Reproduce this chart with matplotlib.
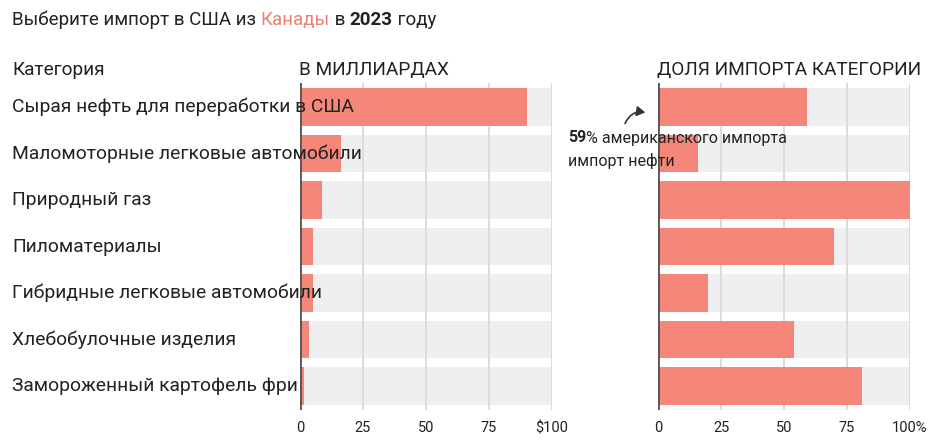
import matplotlib
matplotlib.use('Agg')
import matplotlib.pyplot as plt
from matplotlib.patches import FancyArrowPatch
from matplotlib.transforms import blended_transform_factory

plt.rcParams['font.family'] = ['Roboto', 'DejaVu Sans']

categories = [
    'Сырая нефть для переработки в США',
    'Маломоторные легковые автомобили',
    'Природный газ',
    'Пиломатериалы',
    'Гибридные легковые автомобили',
    'Хлебобулочные изделия',
    'Замороженный картофель фри',
]
billions = [90, 16.3, 8.7, 5.1, 5.1, 3.7, 1.6]
share_pct = [59, 16, 100, 70, 20, 54, 81]

ticks = [0, 25, 50, 75, 100]
left_labels = ['0', '25', '50', '75', '$100']
right_labels = ['0', '25', '50', '75', '100%']

BAR = '#f4877a'
BG = '#eeeff1'
GRID = '#dcdcdc'
TXT = '#222222'
W, H = 953, 446

fig = plt.figure(figsize=(9.53, 4.46), dpi=100)

def make_axes(x0, values, labels):
    ax = fig.add_axes([x0 / W, 1 - 410 / H, 252 / W, 327 / H])
    y = list(range(len(values)))
    ax.barh(y, [100] * len(values), height=0.8, color=BG, zorder=1)
    ax.barh(y, values, height=0.8, color=BAR, zorder=2)
    for t in ticks[1:]:
        ax.axvline(t, color=GRID, lw=1.4, zorder=1.5)
    ax.axvline(0, color='#555555', lw=2, zorder=3)
    ax.set_xlim(0, 100)
    ax.set_ylim(len(values) - 0.484, -0.516)
    ax.set_yticks([])
    ax.set_xticks(ticks)
    ax.set_xticklabels(labels, fontsize=10.5, color=TXT)
    ax.tick_params(axis='x', length=0, pad=8)
    for s in ax.spines.values():
        s.set_visible(False)
    ax.patch.set_alpha(0)
    return ax

ax1 = make_axes(300, billions, left_labels)
ax2 = make_axes(658, share_pct, right_labels)

# category labels, drawn over the left panel
tr = blended_transform_factory(fig.transFigure, ax1.transData)
for i, c in enumerate(categories):
    ax1.text(12 / W, i, c, transform=tr, fontsize=13.9, color=TXT,
             va='center', ha='left', zorder=5, clip_on=False)

# column headers
fig.text(12 / W, 1 - 70 / H, 'Категория', fontsize=13.7, color=TXT, va='center')
fig.text(299 / W, 1 - 70 / H, 'В МИЛЛИАРДАХ', fontsize=13.7, color=TXT, va='center')
fig.text(657 / W, 1 - 70 / H, 'ДОЛЯ ИМПОРТА КАТЕГОРИИ', fontsize=13.7, color=TXT, va='center')

fig.canvas.draw()
renderer = fig.canvas.get_renderer()

def text_run(x, y, parts, size):
    # place differently styled pieces one after another
    for txt, col, wt in parts:
        t = fig.text(x, y, txt, fontsize=size, color=col, fontweight=wt, va='center')
        x += t.get_window_extent(renderer).width / W
    return x

title = [('Выберите импорт в США из ', TXT, 'normal'),
         ('Канады', '#f07f75', 'normal'),
         (' в ', TXT, 'normal'),
         ('2023', TXT, 'bold'),
         (' году', TXT, 'normal')]
text_run(12 / W, 1 - 20 / H, title, 13.5)

# annotation
text_run(568 / W, 1 - 138 / H,
         [('59', TXT, 'bold'), ('% американского импорта', TXT, 'normal')], 11.5)
fig.text(568 / W, 1 - 161 / H, 'импорт нефти', fontsize=11.5, color=TXT, va='center')
fig.patches.append(FancyArrowPatch(
    (624 / W, 1 - 126 / H), (648 / W, 1 - 113 / H), transform=fig.transFigure,
    connectionstyle='arc3,rad=-0.45', arrowstyle='-|>,head_length=5,head_width=3',
    color='#333333', lw=1.2, figure=fig))

fig.savefig('out.png', dpi=100)
